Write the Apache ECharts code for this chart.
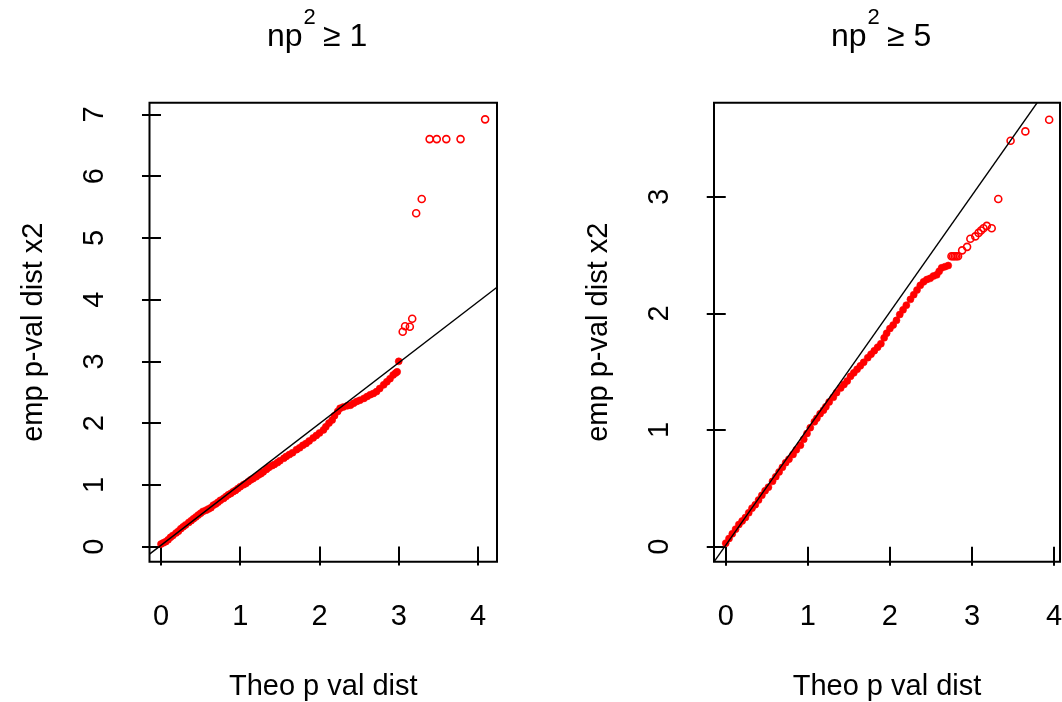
<!DOCTYPE html>
<html><head><meta charset="utf-8">
<script src="https://cdn.jsdelivr.net/npm/echarts@6/dist/echarts.min.js"></script>
<style>html,body{margin:0;padding:0;background:#fff}#c{width:1062px;height:702px}</style>
</head><body><div id="c"></div>
<script>
// ---- data ----
const titleLeft = ['np', '2', '≥ 1'];
const titleRight = ['np', '2', '≥ 5'];
const xAxisTitle = 'Theo p val dist';
const yAxisTitle = 'emp p-val dist x2';
const xTicks = [0, 1, 2, 3, 4];
const leftYTicks = [0, 1, 2, 3, 4, 5, 6, 7];
const rightYTicks = [0, 1, 2, 3];
const leftRange = {xmin: -0.145, xmax: 4.24, ymin: -0.245, ymax: 7.19};
const rightRange = {xmin: -0.143, xmax: 4.072, ymin: -0.129, ymax: 3.806};
const leftRefLine = {intercept: 0.02, slope: 0.986};
const rightRefLine = {intercept: 0.012, slope: 1.0};

// [theoretical, empirical] — dense body of the QQ cloud
const leftBand = [
 [0.00,0.04],[0.03,0.06],[0.06,0.08],[0.09,0.11],[0.12,0.15],[0.15,0.18],[0.19,0.22],[0.22,0.25],
 [0.25,0.29],[0.28,0.32],[0.31,0.35],[0.35,0.39],[0.38,0.42],[0.41,0.45],[0.44,0.48],[0.47,0.51],
 [0.50,0.54],[0.53,0.57],[0.57,0.59],[0.60,0.61],[0.63,0.63],[0.66,0.67],[0.69,0.69],[0.72,0.72],
 [0.75,0.75],[0.79,0.78],[0.82,0.81],[0.85,0.84],[0.88,0.86],[0.91,0.89],[0.94,0.91],[0.97,0.94],
 [1.00,0.97],[1.04,1.00],[1.07,1.02],[1.10,1.05],[1.13,1.08],[1.16,1.10],[1.20,1.13],[1.23,1.16],
 [1.26,1.18],[1.29,1.21],[1.33,1.25],[1.36,1.28],[1.40,1.31],[1.43,1.33],[1.47,1.36],[1.50,1.39],
 [1.55,1.43],[1.58,1.46],[1.62,1.49],[1.66,1.52],[1.71,1.57],[1.75,1.60],[1.79,1.64],[1.83,1.67],
 [1.87,1.71],[1.92,1.76],[1.96,1.80],[2.00,1.84],[2.05,1.89],[2.08,1.94],[2.12,2.00],[2.16,2.05],
 [2.19,2.12],[2.23,2.19],[2.26,2.24],[2.30,2.26],[2.35,2.28],[2.39,2.29],[2.43,2.32],[2.47,2.35],
 [2.51,2.37],[2.56,2.40],[2.60,2.43],[2.64,2.46],[2.68,2.48],[2.72,2.51],[2.76,2.56],[2.81,2.62],
 [2.85,2.67],[2.89,2.72],[2.93,2.78],[2.96,2.81],[2.98,2.83],[3.00,3.00]
];
// isolated upper-tail points
const leftTail = [
 [3.05,3.48],[3.08,3.57],[3.14,3.56],[3.17,3.69],[3.22,5.40],[3.29,5.63],
 [3.39,6.60],[3.48,6.60],[3.60,6.60],[3.78,6.60],[4.09,6.92]
];
const rightBand = [
 [0.00,0.03],[0.04,0.07],[0.08,0.11],[0.12,0.15],[0.16,0.19],[0.20,0.22],[0.24,0.25],[0.28,0.29],
 [0.32,0.33],[0.36,0.36],[0.40,0.40],[0.44,0.44],[0.48,0.48],[0.52,0.51],[0.57,0.56],[0.61,0.60],
 [0.65,0.64],[0.69,0.68],[0.73,0.72],[0.77,0.75],[0.82,0.79],[0.86,0.83],[0.91,0.87],[0.95,0.92],
 [0.99,0.97],[1.03,1.02],[1.08,1.07],[1.11,1.10],[1.15,1.14],[1.19,1.17],[1.22,1.20],[1.26,1.24],
 [1.31,1.28],[1.35,1.32],[1.40,1.36],[1.44,1.39],[1.48,1.42],[1.52,1.46],[1.56,1.49],[1.60,1.52],
 [1.64,1.55],[1.68,1.58],[1.73,1.62],[1.77,1.65],[1.81,1.68],[1.85,1.71],[1.89,1.74],[1.93,1.79],
 [1.96,1.83],[2.00,1.87],[2.04,1.90],[2.08,1.94],[2.12,1.99],[2.16,2.03],[2.20,2.07],[2.25,2.12],
 [2.29,2.16],[2.33,2.20],[2.37,2.24],[2.41,2.27],[2.45,2.29],[2.49,2.30],[2.53,2.32],[2.57,2.33],
 [2.60,2.36],[2.63,2.39],[2.67,2.40],[2.71,2.41]
];
const rightTail = [
 [2.75,2.49],[2.77,2.49],[2.79,2.49],[2.81,2.49],[2.83,2.49],[2.88,2.54],
 [2.94,2.57],[2.98,2.64],[3.04,2.66],[3.08,2.69],[3.11,2.71],[3.14,2.73],[3.18,2.75],[3.24,2.73],
 [3.32,2.98],[3.47,3.48],[3.65,3.56],[3.94,3.66]
];

// ---- chart ----
const FONT = '"Liberation Sans", Arial, sans-serif';
const grids = [
  {left: 149.5, top: 102.7, width: 347.5, height: 459},
  {left: 714, top: 102.7, width: 346, height: 459}
];
function refLine(r, L) {
  return [[r.xmin, L.intercept + L.slope * r.xmin], [r.xmax, L.intercept + L.slope * r.xmax]];
}
function xAxisFor(i, r) {
  return {
    type: 'value', gridIndex: i, min: r.xmin, max: r.xmax,
    name: xAxisTitle, nameLocation: 'middle', nameGap: 111,
    nameTextStyle: {fontSize: 29, color: '#000', fontFamily: FONT},
    axisLine: {show: false},
    axisTick: {show: true, length: 19, inside: false, customValues: xTicks, lineStyle: {color: '#000', width: 2}},
    axisLabel: {show: true, customValues: xTicks, margin: 41, fontSize: 29, color: '#000', fontFamily: FONT},
    splitLine: {show: false}
  };
}
function yAxisFor(i, r, ticks) {
  return {
    type: 'value', gridIndex: i, min: r.ymin, max: r.ymax,
    name: yAxisTitle, nameLocation: 'middle', nameGap: 101,
    nameTextStyle: {fontSize: 29, color: '#000', fontFamily: FONT},
    axisLine: {show: false},
    axisTick: {show: true, length: 19, inside: false, customValues: ticks, lineStyle: {color: '#000', width: 2}},
    axisLabel: {show: true, customValues: ticks, rotate: 90, margin: 40, fontSize: 29, color: '#000', fontFamily: FONT},
    splitLine: {show: false}
  };
}
// title built from three text pieces: base, superscript, relation
function titleParts(parts, cx) {
  const x0 = cx - 56;
  const base = {fontFamily: FONT, color: '#000', fontWeight: 'normal'};
  return [
    {text: parts[0], left: x0, top: 21, padding: 0, textStyle: Object.assign({fontSize: 32, lineHeight: 32}, base)},
    {text: parts[1], left: x0 + 36.5, top: 7, padding: 0, textStyle: Object.assign({fontSize: 22, lineHeight: 22}, base)},
    {text: parts[2], left: x0 + 56, top: 21, padding: 0, textStyle: Object.assign({fontSize: 32, lineHeight: 32}, base)}
  ];
}
const bandStyle = {
  type: 'scatter', symbol: 'circle', symbolSize: 7,
  itemStyle: {color: '#ff0000', borderColor: '#ff0000', borderWidth: 0.6, opacity: 1},
  emphasis: {disabled: true}, z: 2, silent: true
};
const tailStyle = {
  type: 'scatter', symbol: 'circle', symbolSize: 7,
  itemStyle: {color: 'rgba(255,255,255,0)', borderColor: '#ff0000', borderWidth: 1.6, opacity: 1},
  emphasis: {disabled: true}, z: 2, silent: true
};
const lineStyle = {
  type: 'line', symbol: 'none', clip: true, silent: true, z: 3,
  lineStyle: {color: '#000', width: 1.4}
};
const option = {
  backgroundColor: '#fff',
  animation: false,
  title: titleParts(titleLeft, 323).concat(titleParts(titleRight, 887)),
  grid: grids.map(g => Object.assign({show: true, borderColor: '#000', borderWidth: 2, backgroundColor: 'transparent', outerBoundsMode: 'none'}, g)),
  xAxis: [xAxisFor(0, leftRange), xAxisFor(1, rightRange)],
  yAxis: [yAxisFor(0, leftRange, leftYTicks), yAxisFor(1, rightRange, rightYTicks)],
  series: [
    Object.assign({}, bandStyle, {xAxisIndex: 0, yAxisIndex: 0, data: leftBand}),
    Object.assign({}, tailStyle, {xAxisIndex: 0, yAxisIndex: 0, data: leftTail}),
    Object.assign({}, bandStyle, {xAxisIndex: 1, yAxisIndex: 1, data: rightBand}),
    Object.assign({}, tailStyle, {xAxisIndex: 1, yAxisIndex: 1, data: rightTail}),
    Object.assign({}, lineStyle, {xAxisIndex: 0, yAxisIndex: 0, data: refLine(leftRange, leftRefLine)}),
    Object.assign({}, lineStyle, {xAxisIndex: 1, yAxisIndex: 1, data: refLine(rightRange, rightRefLine)})
  ]
};
const chart = echarts.init(document.getElementById('c'), null, {renderer: 'canvas'});
chart.setOption(option);
</script>
</body></html>
